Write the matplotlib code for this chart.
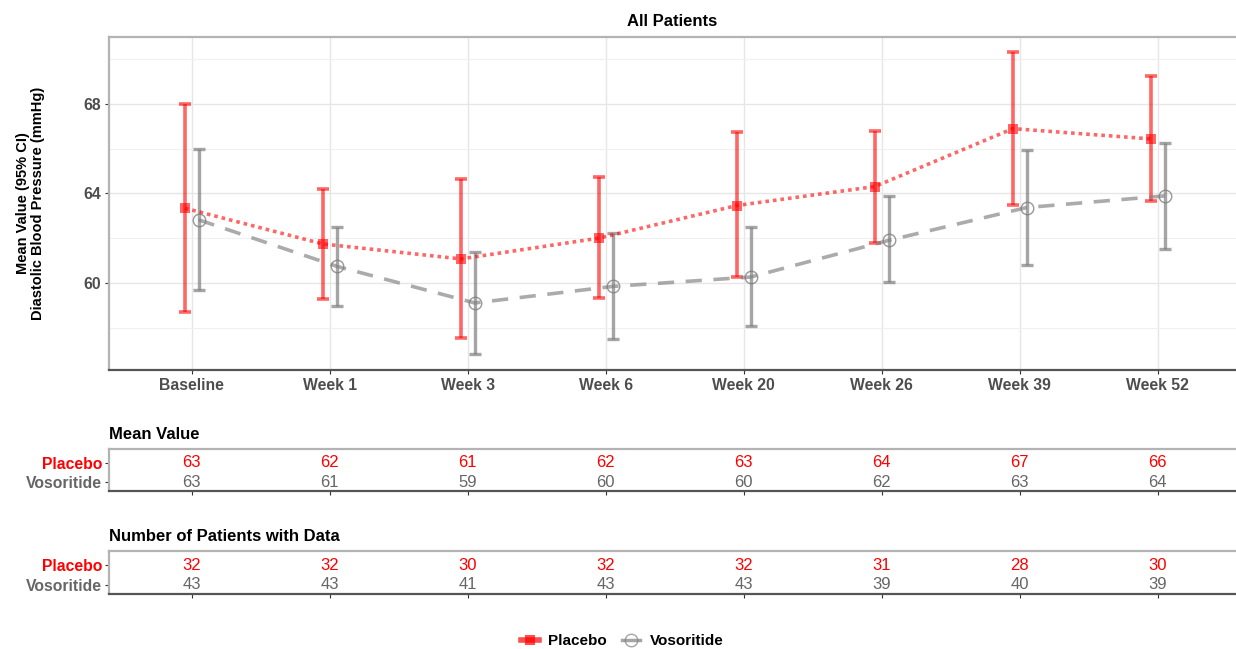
import numpy as np
import matplotlib
matplotlib.use('Agg')
import matplotlib.pyplot as plt
from matplotlib.lines import Line2D

plt.rcParams['font.family'] = ['Liberation Sans', 'DejaVu Sans']

visits = ['Baseline', 'Week 1', 'Week 3', 'Week 6', 'Week 20', 'Week 26', 'Week 39', 'Week 52']

# mean and 95% CI per visit
placebo_mean = [63.34, 61.74, 61.07, 62.00, 63.46, 64.31, 66.90, 66.44]
placebo_lo = [58.68, 59.29, 57.54, 59.31, 60.25, 61.78, 63.48, 63.67]
placebo_hi = [68.00, 64.19, 64.64, 64.75, 66.73, 66.81, 70.33, 69.25]

voso_mean = [62.82, 60.74, 59.10, 59.84, 60.26, 61.90, 63.37, 63.89]
voso_lo = [59.67, 58.98, 56.81, 57.49, 58.06, 60.02, 60.80, 61.53]
voso_hi = [65.99, 62.52, 61.38, 62.25, 62.50, 63.89, 65.95, 66.27]

placebo_n = [32, 32, 30, 32, 32, 31, 28, 30]
voso_n = [43, 43, 41, 43, 43, 39, 40, 39]

RED = '#FF0000'
GREY = '#7F7F7F'
TXT_GREY = '#666666'
LAB_SIZE = 11.3

fig = plt.figure(figsize=(12.36, 6.49), dpi=100)
W, H = 1236, 649


def box(l, t, r, b):
    return [l / W, 1 - b / H, (r - l) / W, (b - t) / H]


x = np.arange(len(visits))
xlim = (-0.6, (1236 - 109) / 138.0 - 0.6)

# ---- main panel
ax = fig.add_axes(box(109, 37, 1236, 370))
dodge = 0.05

pm = np.array(placebo_mean)
vm = np.array(voso_mean)
ax.errorbar(x - dodge, pm, yerr=[pm - np.array(placebo_lo), np.array(placebo_hi) - pm],
            fmt='none', ecolor=RED, alpha=0.6, elinewidth=2.6, capsize=4, capthick=2.6, zorder=3)
ax.errorbar(x + dodge, vm, yerr=[vm - np.array(voso_lo), np.array(voso_hi) - vm],
            fmt='none', ecolor=GREY, alpha=0.7, elinewidth=2.4, capsize=4, capthick=2.4, zorder=3)
ax.plot(x - dodge, pm, color=RED, alpha=0.6, lw=2.6, linestyle=(0, (1, 1.1)), zorder=4)
ax.plot(x + dodge, vm, color=GREY, alpha=0.65, lw=2.6, linestyle=(0, (4.5, 3.2)), zorder=4)
ax.plot(x - dodge, pm, 's', color=RED, alpha=0.6, ms=7, mew=0, zorder=5)
ax.plot(x + dodge, vm, 'o', mfc='none', mec=GREY, alpha=0.8, ms=9, mew=1.0, zorder=5)

ax.set_xlim(*xlim)
ax.set_ylim(56.1, 71.0)
ax.set_yticks([60, 64, 68])
ax.set_yticks([58, 62, 66, 70], minor=True)
ax.set_xticks(x)
ax.set_xticklabels(visits)
ax.grid(True, which='major', color='#E6E6E6', lw=1.0)
ax.grid(True, which='minor', axis='y', color='#F0F0F0', lw=0.8)
ax.set_axisbelow(True)
ax.tick_params(axis='both', which='major', length=3, color='#333333', labelsize=LAB_SIZE,
               labelcolor='#4D4D4D', pad=3)
ax.tick_params(axis='y', which='minor', length=0)
for lab in ax.get_xticklabels() + ax.get_yticklabels():
    lab.set_fontweight('bold')
for s in ['top', 'left']:
    ax.spines[s].set_color('#B3B3B3')
    ax.spines[s].set_linewidth(1.6)
ax.spines['right'].set_visible(False)
ax.spines['bottom'].set_color('#555555')
ax.spines['bottom'].set_linewidth(1.6)
ax.set_title('All Patients', fontsize=12, fontweight='bold', pad=8)
ax.set_ylabel('Mean Value (95% CI)\nDiastolic Blood Pressure (mmHg)', fontsize=10.5,
              fontweight='bold', linespacing=1.15, labelpad=27)


def table_panel(rect, title, top_vals, bottom_vals):
    t = fig.add_axes(rect)
    t.set_xlim(*xlim)
    t.set_ylim(-0.47, 1.73)
    for i in range(len(visits)):
        t.text(x[i], 1, str(top_vals[i]), ha='center', va='center', color=RED, fontsize=12)
        t.text(x[i], 0, str(bottom_vals[i]), ha='center', va='center', color=TXT_GREY, fontsize=12)
    t.set_xticks(x)
    t.set_xticklabels([])
    t.set_yticks([1, 0])
    t.set_yticklabels(['Placebo', 'Vosoritide'])
    t.tick_params(axis='both', length=3, color='#333333', labelsize=LAB_SIZE, pad=2)
    ylabs = t.get_yticklabels()
    ylabs[0].set_color(RED)
    ylabs[1].set_color(TXT_GREY)
    for lab in ylabs:
        lab.set_fontweight('bold')
    for s in ['top', 'left']:
        t.spines[s].set_color('#B3B3B3')
        t.spines[s].set_linewidth(1.6)
    t.spines['right'].set_visible(False)
    t.spines['bottom'].set_color('#555555')
    t.spines['bottom'].set_linewidth(1.6)
    t.set_title(title, loc='left', fontsize=12, fontweight='bold', pad=7)
    return t


table_panel(box(109, 449, 1236, 491), 'Mean Value',
            [int(round(v)) for v in placebo_mean], [int(round(v)) for v in voso_mean])
table_panel(box(109, 551, 1236, 594), 'Number of Patients with Data', placebo_n, voso_n)

handles = [
    Line2D([], [], color=RED, alpha=0.7, lw=4, marker='s', ms=7, mew=0),
    Line2D([], [], color=GREY, alpha=0.7, lw=2.5, marker='o', mfc='none', ms=9, mew=1),
]
fig.legend(handles, ['Placebo', 'Vosoritide'], loc='center', bbox_to_anchor=(622 / W, 1 - 641 / H),
           ncol=2, frameon=False, handlelength=1.2, handletextpad=0.6, columnspacing=1.0,
           prop={'weight': 'bold', 'size': 11})

fig.savefig('out.png', dpi=100)
